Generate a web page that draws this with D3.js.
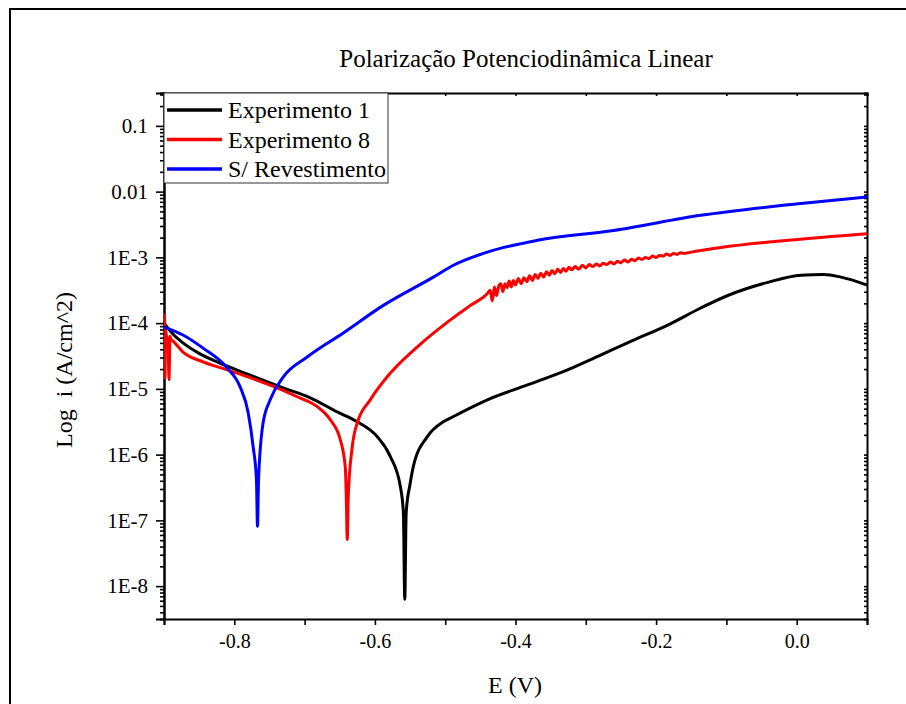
<!DOCTYPE html>
<html>
<head>
  <meta charset="utf-8">
  <title>Polarização Potenciodinâmica Linear</title>
  <style>
    body { margin: 0; background: #fff; }
    svg text { font-family: "Liberation Serif", "Times New Roman", Times, serif; fill: #000; }
    .axis path, .axis line { stroke: #000; }
  </style>
  <script src="https://cdn.jsdelivr.net/npm/d3@7/dist/d3.min.js"></script>
</head>
<body>
  <svg width="906" height="704"></svg>

  <script>
    // curve data: potential E (V) and log10 of current density (A/cm^2)
    var exp1E = [-0.900,-0.887,-0.873,-0.850,-0.8245,-0.7775,-0.7305,-0.692,-0.6536,-0.625,-0.5966,-0.578,-0.5638,-0.5595,-0.5575,-0.5555,-0.550,-0.5453,-0.5254,-0.5026,-0.4883,-0.440,-0.383,-0.326,-0.279,-0.232,-0.1835,-0.1365,-0.098,-0.041,0.006,0.0387,0.063,0.100];
    var exp1LogI = [-4.00,-4.17,-4.30,-4.46,-4.59,-4.79,-4.985,-5.136,-5.35,-5.50,-5.727,-6.03,-6.485,-6.88,-8.20,-6.88,-6.45,-6.18,-5.727,-5.50,-5.42,-5.167,-4.94,-4.71,-4.485,-4.26,-4.03,-3.77,-3.58,-3.38,-3.27,-3.26,-3.30,-3.42];

    var exp8E = [-0.900,-0.8993,-0.8986,-0.8979,-0.8965,-0.8943,-0.8929,-0.8915,-0.890,-0.8886,-0.873,-0.8444,-0.8103,-0.7775,-0.739,-0.7105,-0.682,-0.6635,-0.6493,-0.6422,-0.6407,-0.6393,-0.6379,-0.6322,-0.625,-0.6066,-0.578,-0.5396,-0.4926,-0.4641,-0.440,
      -0.436,-0.433,-0.430,-0.427,-0.424,-0.421,-0.418,-0.415,-0.412,-0.409,-0.406,-0.403,-0.400,-0.396,-0.392,-0.388,-0.384,-0.380,-0.376,-0.372,-0.368,-0.364,-0.360,-0.356,-0.352,-0.348,-0.344,-0.340,-0.336,-0.332,-0.328,-0.324,-0.320,-0.315,-0.310,-0.305,-0.300,-0.295,-0.290,-0.285,-0.280,-0.275,-0.270,-0.265,-0.260,-0.255,-0.250,-0.245,-0.240,-0.235,-0.230,-0.225,-0.220,-0.215,-0.210,-0.205,-0.200,-0.195,-0.190,-0.185,-0.180,-0.175,-0.170,-0.165,-0.160,-0.150,
      -0.108,-0.0125,0.100];
    var exp8LogI = [-4.05,-3.88,-4.83,-4.10,-4.20,-4.26,-4.86,-4.20,-4.25,-4.26,-4.44,-4.59,-4.71,-4.83,-4.985,-5.12,-5.27,-5.47,-5.77,-6.18,-6.64,-7.29,-6.64,-5.88,-5.515,-5.167,-4.76,-4.36,-3.95,-3.73,-3.55,
      -3.50,-3.66,-3.45,-3.58,-3.44,-3.40,-3.52,-3.40,-3.46,-3.36,-3.45,-3.35,-3.42,-3.32,-3.40,-3.31,-3.37,-3.28,-3.35,-3.26,-3.32,-3.24,-3.30,-3.22,-3.27,-3.20,-3.25,-3.18,-3.23,-3.17,-3.21,-3.15,-3.19,-3.14,-3.18,-3.12,-3.16,-3.11,-3.14,-3.10,-3.13,-3.09,-3.11,-3.07,-3.10,-3.06,-3.08,-3.04,-3.07,-3.03,-3.05,-3.01,-3.03,-3.00,-3.02,-2.98,-3.00,-2.97,-2.98,-2.95,-2.97,-2.94,-2.955,-2.93,-2.94,-2.92,
      -2.85,-2.74,-2.64];

    var bareE = [-0.900,-0.873,-0.8444,-0.8103,-0.7917,-0.7803,-0.7732,-0.7685,-0.7670,-0.7655,-0.759,-0.749,-0.7305,-0.6963,-0.645,-0.588,-0.5168,-0.4883,-0.440,-0.3687,-0.2604,-0.1365,0.006,0.100];
    var bareLogI = [-4.06,-4.18,-4.38,-4.68,-4.97,-5.36,-5.88,-6.38,-7.09,-6.38,-5.515,-5.167,-4.82,-4.515,-4.15,-3.73,-3.30,-3.12,-2.92,-2.74,-2.59,-2.36,-2.18,-2.08];

    var seriesNames = ["Experimento 1", "Experimento 8", "S/ Revestimento"];
    var seriesColors = ["#000000", "#ff0000", "#0000ff"];

    var xTicks = [-0.9, -0.8, -0.7, -0.6, -0.5, -0.4, -0.3, -0.2, -0.1, 0.0, 0.1];
    var xLabelTicks = [-0.8, -0.6, -0.4, -0.2, 0.0];
    var xTickLabels = ["-0.8", "-0.6", "-0.4", "-0.2", "0.0"];
    var yTicks = [1e-1, 1e-2, 1e-3, 1e-4, 1e-5, 1e-6, 1e-7, 1e-8];
    var yTickLabels = ["0.1", "0.01", "1E-3", "1E-4", "1E-5", "1E-6", "1E-7", "1E-8"];

    var serif = "'Liberation Serif', 'Times New Roman', Times, serif";

    // dimensions
    var svg = d3.select("svg"),
        plotLeft = 164, plotTop = 93,
        width = 703, height = 526;

    var x = d3.scaleLinear().domain([-0.9, 0.1]).range([0, width]);
    var y = d3.scaleLog().domain([Math.pow(10, -8.5), Math.pow(10, -0.5)]).range([height, 0]);

    // outer frame
    svg.append("rect")
       .attr("x", 10).attr("y", 9)
       .attr("width", 920).attr("height", 720)
       .attr("fill", "none").attr("stroke", "#000").attr("stroke-width", 2);

    svg.append("text")
       .attr("x", 526).attr("y", 67)
       .attr("text-anchor", "middle")
       .attr("font-family", serif)
       .style("font-size", "25px")
       .text("Polarização Potenciodinâmica Linear");

    var g = svg.append("g").attr("transform", "translate(" + plotLeft + "," + plotTop + ")");

    // minor y ticks (2..9 per decade)
    var yMinor = [];
    for (var p = -9; p <= -1; p++) {
      for (var m = 2; m <= 9; m++) {
        var v = m * Math.pow(10, p);
        if (v >= y.domain()[0] && v <= y.domain()[1]) yMinor.push(v);
      }
    }

    // X axis
    var xAxis = g.append("g")
       .attr("class", "axis")
       .attr("transform", "translate(0," + height + ")")
       .call(d3.axisBottom(x).tickValues(xTicks).tickSize(6).tickPadding(9)
         .tickFormat(function(d) {
           var k = xLabelTicks.findIndex(function(t) { return Math.abs(t - d) < 1e-9; });
           return k < 0 ? "" : xTickLabels[k];
         }));
    xAxis.attr("font-family", serif).attr("font-size", 20);

    // top axis
    g.append("g").attr("class", "axis")
       .call(d3.axisBottom(x).tickValues(xTicks).tickSize(3).tickFormat(""));

    // Y axis
    var yAxis = g.append("g")
       .attr("class", "axis")
       .call(d3.axisLeft(y).tickValues(yTicks).tickSize(8).tickPadding(8)
         .tickFormat(function(d, i) { return yTickLabels[i]; }));
    yAxis.attr("font-family", serif).attr("font-size", 21);
    g.append("g").attr("class", "axis")
       .call(d3.axisLeft(y).tickValues(yMinor).tickSize(4).tickFormat(""));

    // right axis
    g.append("g").attr("class", "axis")
       .attr("transform", "translate(" + width + ",0)")
       .call(d3.axisLeft(y).tickValues(yTicks.concat(yMinor)).tickSize(3).tickFormat(""));

    g.selectAll(".axis path").attr("stroke-width", 2);
    g.selectAll(".axis line").attr("stroke-width", 1.6);

    // curves
    var line = d3.line()
        .curve(d3.curveMonotoneX)
        .x(function(d) { return x(d[0]); })
        .y(function(d) { return y(Math.pow(10, d[1])); });

    var curves = [
      d3.zip(exp1E, exp1LogI),
      d3.zip(exp8E, exp8LogI),
      d3.zip(bareE, bareLogI)
    ];

    g.append("clipPath").attr("id", "plotclip")
       .append("rect").attr("width", width).attr("height", height);

    g.append("g").attr("clip-path", "url(#plotclip)")
     .selectAll(".curve")
     .data(curves)
     .enter().append("path")
     .attr("class", "curve")
     .attr("d", line)
     .attr("fill", "none")
     .attr("stroke", function(d, i) { return seriesColors[i]; })
     .attr("stroke-width", 3)
     .attr("stroke-linejoin", "round");

    // legend
    var legend = g.append("g");
    legend.append("rect")
       .attr("x", 0).attr("y", 0)
       .attr("width", 224).attr("height", 90)
       .attr("fill", "#fff").attr("stroke", "#333").attr("stroke-width", 1);

    var items = legend.selectAll(".item")
       .data(seriesNames)
       .enter().append("g")
       .attr("transform", function(d, i) { return "translate(0," + (17 + i * 29.5) + ")"; });
    items.append("line")
       .attr("x1", 3).attr("x2", 58)
       .attr("stroke", function(d, i) { return seriesColors[i]; })
       .attr("stroke-width", 3.5);
    items.append("text")
       .attr("x", 64).attr("dy", "0.35em")
       .attr("font-family", serif)
       .style("font-size", "24px")
       .text(function(d) { return d; });

    // axis labels
    svg.append("text")
       .attr("x", 515).attr("y", 693)
       .attr("text-anchor", "middle")
       .attr("font-family", serif)
       .style("font-size", "24px")
       .text("E (V)");

    svg.append("text")
       .attr("transform", "translate(72,370) rotate(-90)")
       .attr("text-anchor", "middle")
       .attr("font-family", serif)
       .style("font-size", "24px")
       .style("white-space", "pre")
       .text("Log  i (A/cm^2)");
  </script>
</body>
</html>
